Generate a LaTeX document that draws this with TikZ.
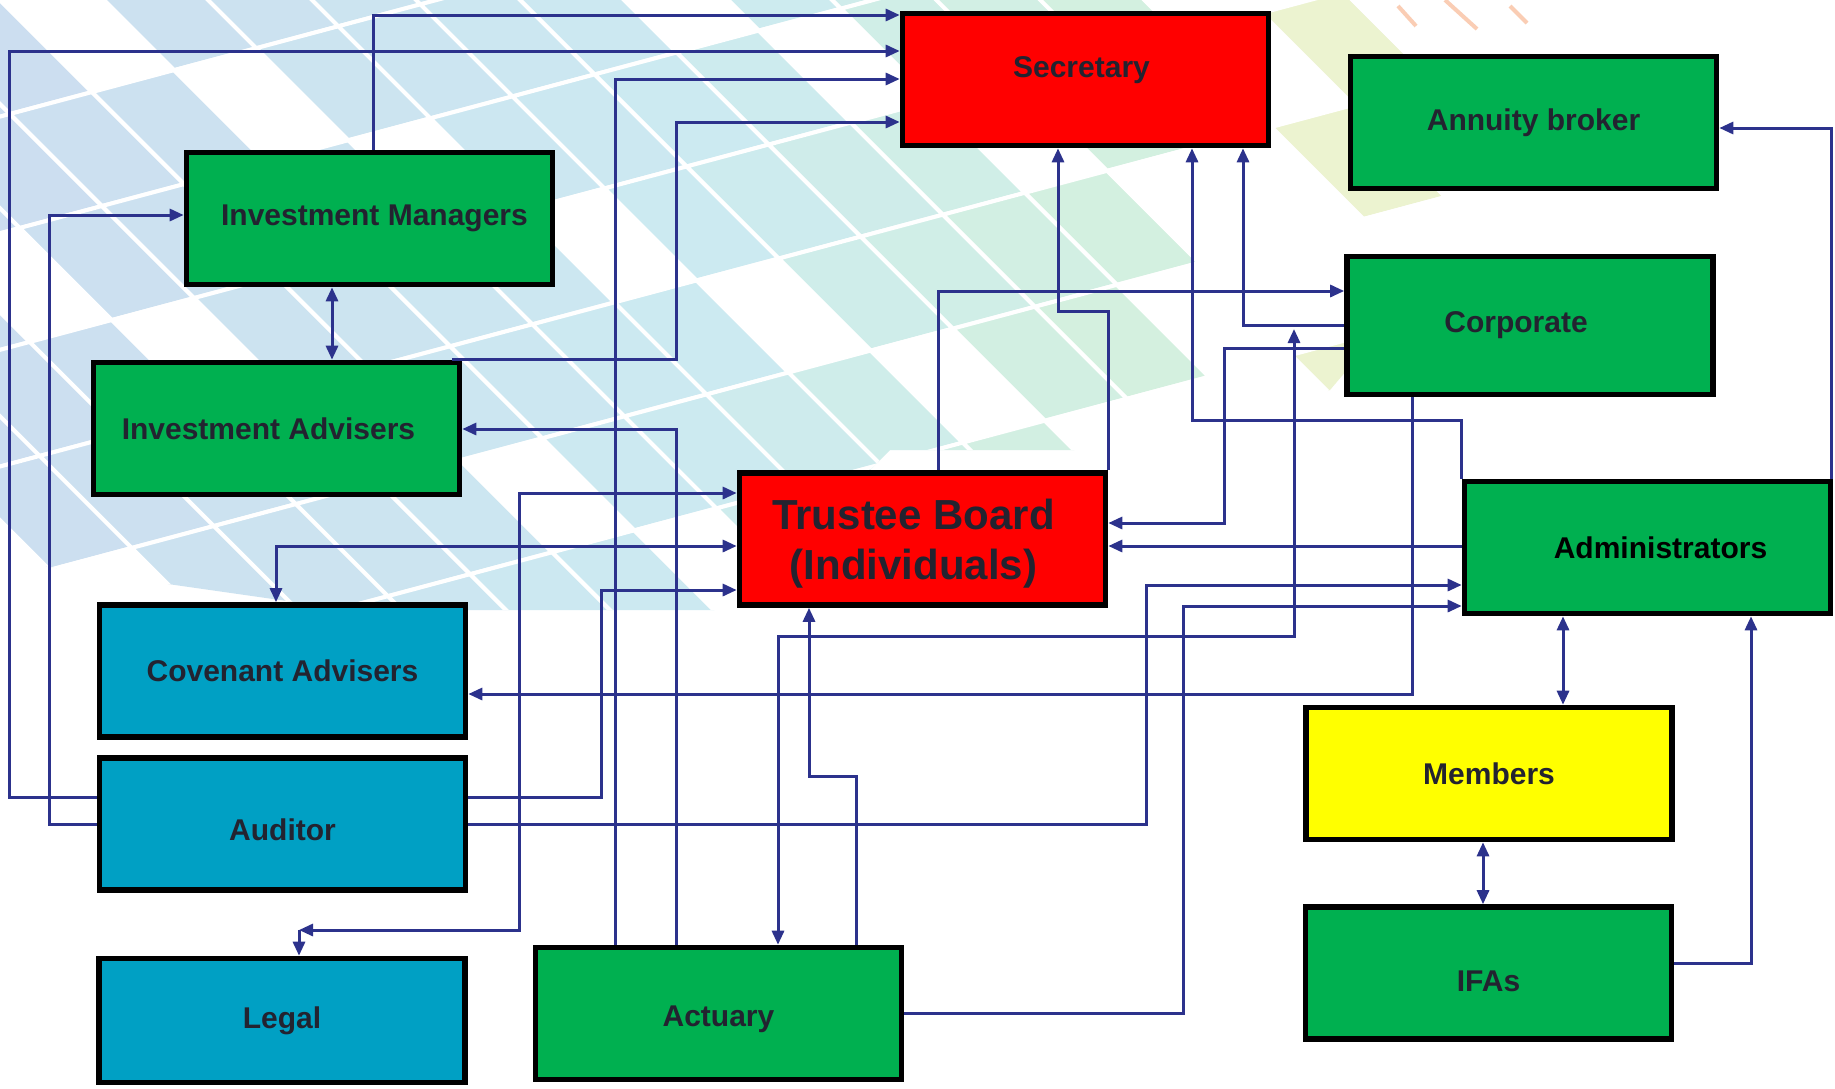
\documentclass[tikz,border=0pt]{standalone}
\usepackage{fontspec}
\setmainfont{Liberation Sans}
\usepackage{xcolor}
\usetikzlibrary{arrows.meta,positioning}

\definecolor{boxgreen}{RGB}{0,176,80}
\definecolor{boxred}{RGB}{255,0,0}
\definecolor{boxblue}{RGB}{0,160,196}
\definecolor{boxyellow}{RGB}{255,255,0}
\definecolor{linkblue}{RGB}{44,50,140}
\definecolor{labelgray}{RGB}{35,35,48}
\definecolor{tileblue}{RGB}{204,222,240}
\definecolor{tilecyan}{RGB}{204,234,241}
\definecolor{tilegreen}{RGB}{212,241,222}
\definecolor{tileyellow}{RGB}{236,243,208}
\definecolor{dashorange}{RGB}{250,205,180}

\tikzset{
  box/.style={draw=black, line width=2.8pt, minimum width=183pt, minimum height=66pt, inner sep=0pt, text=labelgray, font=\fontsize{15}{18}\selectfont\bfseries, align=center},
  link/.style={draw=linkblue, line width=1.5pt, >={Triangle[length=7pt,width=6pt]}},
}

\begin{document}
\begin{tikzpicture}[x=0.5pt,y=0.5pt,yscale=-1,xscale=1]
\useasboundingbox (0,0) rectangle (1835,1088);
\fill[white] (0,0) rectangle (1835,1088);

%Background tiles
\begin{scope}
\clip (0,0) -- (1545,0) -- (1470,225) -- (1330,390) -- (1170,450) -- (890,450) -- (730,610) -- (350,610) -- (0,560) -- cycle;
\begin{scope}[x={(0.483pt,-0.129pt)}, y={(0.354pt,0.354pt)}]
\foreach \i in {-6,...,15}{
  \foreach \j in {0,...,9}{
    \pgfmathsetmacro{\cx}{0.966*(\i+0.5)*85+0.707*(\j+0.5)*130}
    \pgfmathtruncatemacro{\mixa}{max(0,min(100,100-\cx/7))}
    \pgfmathtruncatemacro{\mixb}{max(0,min(100,100-(\cx-700)/4.5))}
    \pgfmathtruncatemacro{\gap}{mod(7*\i+3*\j+60,5)}
    \pgfmathtruncatemacro{\gapb}{mod(5*\i+2*\j+60,3)}
    \ifdim\cx pt<700pt \edef\tilecol{tileblue!\mixa!tilecyan}\else\edef\tilecol{tilecyan!\mixb!tilegreen}\fi
    \ifdim\cx pt>1150pt \def\tilecol{tileyellow}\ifnum\gapb=0 \else\def\tilecol{white}\fi\fi
    \ifnum\gap=0 \def\tilecol{white}\fi
    \fill[\tilecol, draw=white, line width=2pt] (\i*85,\j*130) -- ++(85,0) -- ++(0,130) -- ++(-85,0) -- cycle;
  }
}
\end{scope}
\end{scope}
\draw[dashorange, line width=2pt] (1398,6) -- (1416,26);
\draw[dashorange, line width=2pt] (1445,0) -- (1477,29);
\draw[dashorange, line width=2pt] (1510,6) -- (1527,23);

%Shape: Rectangle
\node[box, fill=boxred] (sec) at (1085.5,79.5) {\raisebox{12pt}{Secretary}\hspace*{4pt}};
\node[box, fill=boxgreen] (ann) at (1533.5,122.5) {Annuity broker};
\node[box, fill=boxgreen] (im) at (369.5,218.5) {\hspace*{5pt}Investment Managers};
\node[box, fill=boxgreen, minimum height=69pt] (corp) at (1530,325.5) {Corporate\hspace*{14pt}};
\node[box, fill=boxgreen] (ia) at (276.5,428.5) {Investment Advisers\hspace*{8pt}};
\node[box, fill=boxred, font=\fontsize{21}{25}\selectfont\bfseries] (tb) at (922.5,539) {\rule{0pt}{20pt}Trustee Board\hspace*{9pt}\\(Individuals)\hspace*{9pt}};
\node[box, fill=boxgreen, text=black] (adm) at (1647.5,547.5) {\hspace*{13pt}Administrators};
\node[box, fill=boxblue] (cov) at (282.5,671) {Covenant Advisers};
\node[box, fill=boxyellow] (mem) at (1489,773.5) {Members};
\node[box, fill=boxblue] (aud) at (282.5,824) {Auditor\rule{0pt}{17pt}};
\node[box, fill=boxgreen] (ifa) at (1488.5,973) {IFAs\rule{0pt}{19pt}};
\node[box, fill=boxblue, minimum height=62pt] (leg) at (282,1020.5) {Legal};
\node[box, fill=boxgreen] (act) at (718.5,1013.5) {Actuary\rule{0pt}{16pt}};

%Straight Lines into Secretary
\draw[link,->] (373,0 |- im.north) |- (sec.west |- 0,15);
\draw[link,->] (aud.west |- 0,797) -| (9,51) -- (sec.west |- 0,51);
\draw[link,->] (615,0 |- act.north) |- (sec.west |- 0,79);
\draw[link,->] (452,0 |- ia.north) -| (676,122) -- (sec.west |- 0,122);
\draw[link,->] (tb.north east) |- (1058,311) -- (1058,0 |- sec.south);
\draw[link,->] (adm.north west) |- (1192,420) -- (1192,0 |- sec.south);
\draw[link,->] (corp.west) -| (1243,0 |- sec.south);

%Straight Lines left side
\draw[link,->] (aud.west) -| (49,215) -- (im.west |- 0,215);
\draw[link,<->] (332,0 |- im.south) -- (332,0 |- ia.north);
\draw[link,->] (676,0 |- act.north) |- (ia.east |- 0,429);
\coordinate (legtip) at (299,930);
\draw[link,<->] (legtip) -| (519,493) -- (tb.west |- 0,493);
\draw[link,->] (legtip) -- (legtip |- leg.north);
\draw[link,<->] (276,0 |- cov.north) |- (tb.west |- 0,546);
\draw[link,->] (aud.east |- 0,797) -| (601,590) -- (tb.west |- 0,590);

%Straight Lines to Administrators
\draw[link,->] (aud.east) -| (1146,585) -- (adm.west |- 0,585);
\draw[link,->] (act.east) -| (1183,606) -- (adm.west |- 0,606);
\draw[link,->] (adm.west |- 0,546) -- (tb.east |- 0,546);
\draw[link,->] ([xshift=-0.7pt]adm.north east) |- (ann.east |- 0,128);
\draw[link,<->] (1563,0 |- adm.south) -- (1563,0 |- mem.north);
\draw[link,<->] (1483,0 |- mem.south) -- (1483,0 |- ifa.north);
\draw[link,->] (ifa.east |- 0,963) -| (1751,0 |- adm.south);

%Straight Lines around Trustee Board
\coordinate (corptip) at (1294,329);
\draw[link,<->] (778,0 |- act.north) |- (1294,636) -- (corptip);
\draw[link,->] (856,0 |- act.north) |- (809,776) -- (809,0 |- tb.south);
\draw[link,->] (1412,0 |- corp.south) |- (cov.east |- 0,694);
\draw[link,->] (938,0 |- tb.north) |- (corp.west |- 0,291);
\draw[link,->] (corp.west |- 0,348) -| (1224,523) -- (tb.east |- 0,523);

\end{tikzpicture}
\end{document}
